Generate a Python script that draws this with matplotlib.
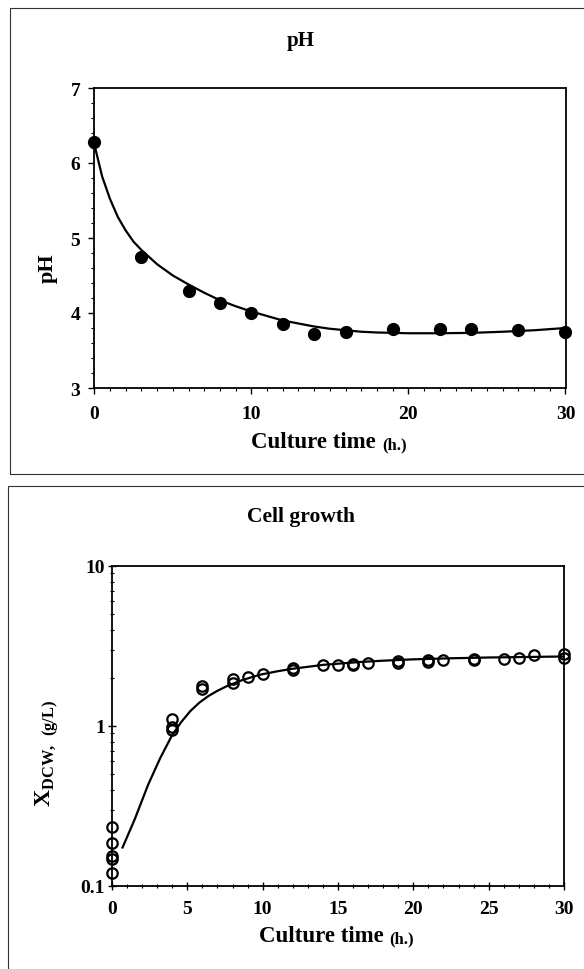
import matplotlib
matplotlib.use('Agg')
import matplotlib.pyplot as plt
from matplotlib.patches import Rectangle
from matplotlib.ticker import MultipleLocator, LogLocator, FixedLocator, NullFormatter

plt.rcParams['font.family'] = ['Liberation Serif', 'DejaVu Serif']
plt.rcParams['font.weight'] = 'bold'
plt.rcParams['mathtext.fontset'] = 'custom'
plt.rcParams['mathtext.rm'] = 'Liberation Serif'
plt.rcParams['mathtext.bf'] = 'Liberation Serif:bold'

# pH measurements
ph_time = [0, 3, 6, 8, 10, 12, 14, 16, 19, 22, 24, 27, 30]
ph_value = [6.28, 4.75, 4.30, 4.13, 4.00, 3.86, 3.72, 3.75, 3.79, 3.79, 3.79, 3.77, 3.75]
# pH fitted curve
ph_fit_t = [0, 0.5, 1, 1.5, 2, 2.5, 3, 4, 5, 6, 7, 8, 9, 10, 11, 12, 13, 14, 15, 16, 17, 18,
            19, 20, 22, 24, 26, 28, 30]
ph_fit_v = [6.25, 5.82, 5.52, 5.28, 5.10, 4.95, 4.84, 4.65, 4.50, 4.38, 4.27, 4.17, 4.09, 4.02,
            3.96, 3.90, 3.86, 3.82, 3.79, 3.77, 3.75, 3.74, 3.735, 3.73, 3.73, 3.735, 3.75,
            3.77, 3.80]

# cell growth measurements
cell_time = [0, 0, 0, 0, 0, 4, 4, 4, 6, 6, 8, 8, 9, 10, 12, 12, 14, 15, 16, 16, 17,
             19, 19, 21, 21, 22, 24, 24, 26, 27, 28, 30, 30]
cell_dcw = [0.235, 0.187, 0.155, 0.147, 0.121, 1.10, 0.99, 0.95, 1.78, 1.71, 1.96, 1.87,
            2.02, 2.11, 2.31, 2.24, 2.40, 2.39, 2.44, 2.39, 2.49, 2.54, 2.46, 2.58, 2.51,
            2.58, 2.61, 2.57, 2.61, 2.66, 2.77, 2.82, 2.65]
# cell growth fitted curve
cell_fit_t = [0.7, 1.5, 2.4, 3.2, 4.0, 4.6, 5.2, 5.8, 6.4, 7.0, 7.6, 8.6, 9.8, 11, 12, 14,
              16.4, 18, 20, 22.5, 25, 27.5, 30]
cell_fit_v = [0.174, 0.26, 0.43, 0.63, 0.88, 1.06, 1.24, 1.40, 1.54, 1.66, 1.77, 1.93,
              2.09, 2.20, 2.28, 2.41, 2.51, 2.56, 2.61, 2.65, 2.68, 2.70, 2.72]

W, H = 584, 970
fig = plt.figure(figsize=(W / 100, H / 100), dpi=100)


def px(x, y):
    return x / W, 1 - y / H


# panel frames
fig.patches.append(Rectangle(px(10, 475), 600 / W, 466 / H, transform=fig.transFigure,
                             fill=False, edgecolor='#333333', linewidth=0.8))
fig.patches.append(Rectangle(px(8, 990), 600 / W, 503 / H, transform=fig.transFigure,
                             fill=False, edgecolor='#333333', linewidth=0.8))

# ---- pH panel ----
ax1 = fig.add_axes([94.3 / W, 1 - 389 / H, 471.2 / W, 300 / H])
ax1.plot(ph_fit_t, ph_fit_v, color='black', lw=1.6, zorder=2)
ax1.plot(ph_time, ph_value, 'o', color='black', ms=8.5, zorder=3, clip_on=False)
ax1.set_xlim(0, 30)
ax1.set_ylim(3, 7)
ax1.xaxis.set_major_locator(MultipleLocator(10))
ax1.xaxis.set_minor_locator(MultipleLocator(1))
ax1.yaxis.set_major_locator(MultipleLocator(1))
ax1.yaxis.set_minor_locator(MultipleLocator(0.2))
ax1.tick_params(which='major', direction='out', length=4, width=1, labelsize=14, pad=6)
ax1.tick_params(which='minor', direction='out', length=2.5, width=0.8)
ax1.tick_params(axis='x', which='major', pad=8)

# ---- cell growth panel ----
ax2 = fig.add_axes([112 / W, 1 - 887 / H, 452 / W, 320 / H])
ax2.plot(cell_fit_t, cell_fit_v, color='black', lw=1.6, zorder=2)
ax2.plot(cell_time, cell_dcw, 'o', mfc='none', mec='black', mew=1.6, ms=7.5, zorder=3,
         clip_on=False)
ax2.set_yscale('log')
ax2.set_xlim(0, 30)
ax2.set_ylim(0.1, 10)
ax2.xaxis.set_major_locator(MultipleLocator(5))
ax2.xaxis.set_minor_locator(MultipleLocator(1))
ax2.yaxis.set_major_locator(FixedLocator([0.1, 1, 10]))
ax2.set_yticklabels(['0.1', '1', '10'])
ax2.yaxis.set_minor_locator(LogLocator(base=10, subs=range(2, 10)))
ax2.yaxis.set_minor_formatter(NullFormatter())
ax2.tick_params(which='major', direction='inout', length=6, width=1, labelsize=14, pad=2)
ax2.tick_params(which='minor', direction='inout', length=3.5, width=0.8)
ax2.tick_params(axis='x', which='major', pad=7)

for ax in (ax1, ax2):
    for s in ax.spines.values():
        s.set_linewidth(1.3)
    for lab in ax.get_xticklabels() + ax.get_yticklabels():
        lab.set_fontweight('bold')

# titles and axis labels
fig.text(*px(301, 41), 'pH', ha='center', va='center', fontsize=15, fontweight='bold')
fig.text(*px(301, 517), 'Cell growth', ha='center', va='center', fontsize=15.5,
         fontweight='bold')
fig.text(*px(48, 268), 'pH', ha='center', va='center', fontsize=16, fontweight='bold',
         rotation=90)
fig.text(*px(47, 753), r'$\mathbf{X}_{\mathbf{DCW,\ (g/L)}}$', ha='center', va='center',
         fontsize=17, rotation=90)

fig.text(*px(376, 443), 'Culture time', ha='right', va='center', fontsize=16.5,
         fontweight='bold')
fig.text(*px(382, 445), '(h.)', ha='left', va='center', fontsize=12, fontweight='bold')
fig.text(*px(384, 937), 'Culture time', ha='right', va='center', fontsize=16.5,
         fontweight='bold')
fig.text(*px(389, 939), '(h.)', ha='left', va='center', fontsize=12, fontweight='bold')

fig.savefig('out.png', dpi=100)
